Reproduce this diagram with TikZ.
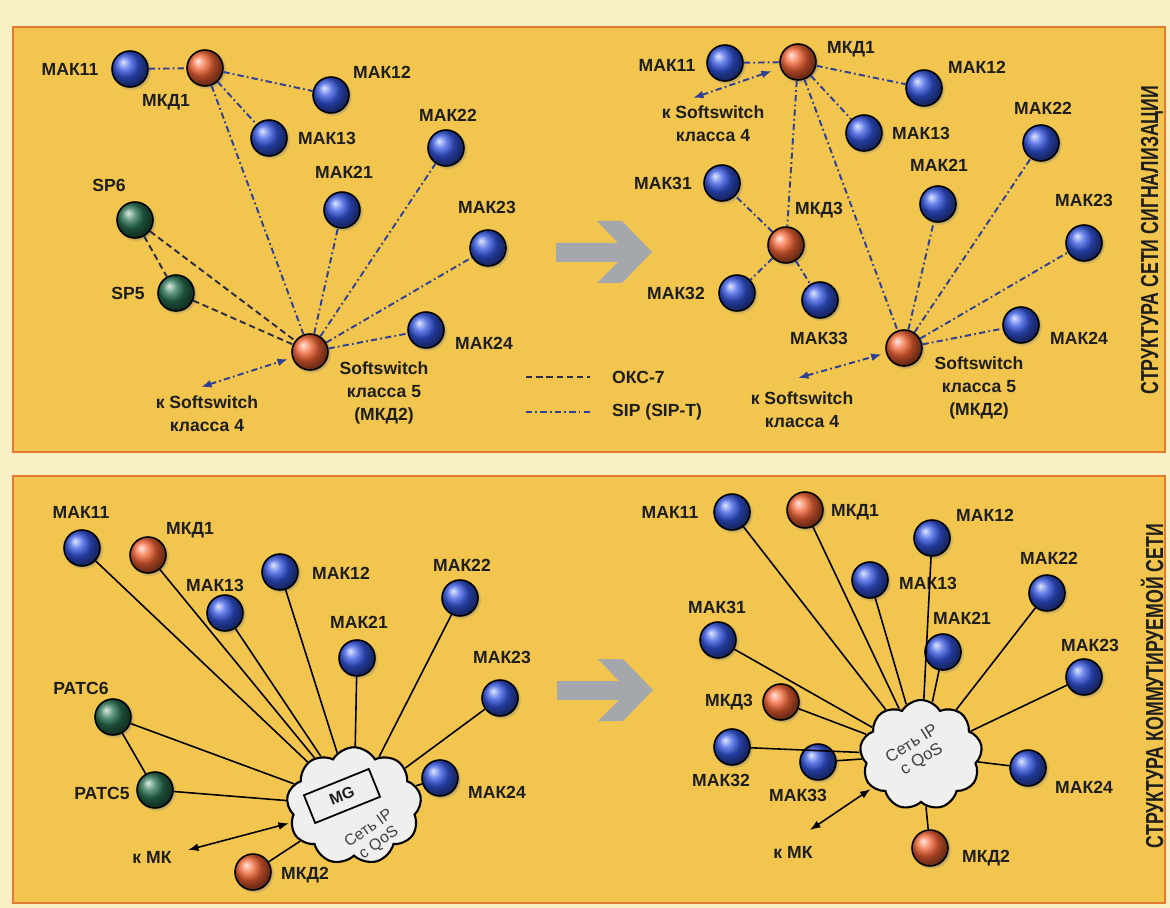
\documentclass[tikz,border=0pt]{standalone}
\usepackage{fontspec}
\setmainfont{Liberation Sans}
\usepackage{tikz}
\usetikzlibrary{arrows.meta,positioning,shapes.symbols,shadows}
\definecolor{pagepale}{HTML}{F8F0C2}
\definecolor{panelA}{HTML}{F3D26A}
\definecolor{panelB}{HTML}{F1C54E}
\definecolor{panelC}{HTML}{F6E4A6}
\definecolor{frameorange}{HTML}{E27A32}
\definecolor{ballblue}{HTML}{3355E0}
\definecolor{ballorange}{HTML}{F26232}
\definecolor{ballgreen}{HTML}{287050}
\definecolor{sipblue}{HTML}{2E3F98}
\definecolor{oksdark}{HTML}{2C2C46}
\definecolor{cloudgray}{HTML}{EFF0EE}
\definecolor{arrowgray}{HTML}{A4A8AC}
\definecolor{inkdark}{HTML}{1E1E1E}
\pgfdeclarehorizontalshading{panelshade}{100bp}{color(0bp)=(panelA); color(25bp)=(panelB); color(82bp)=(panelB); color(100bp)=(panelC)}

\begin{document}
\begin{tikzpicture}[x=0.02cm,y=-0.02cm,>=Latex,
    every node/.style={font=\fontsize{10}{12}\selectfont\bfseries,text=inkdark},
    ballnode/.style={circle,draw=black,line width=0.9pt,minimum size=0.72cm,inner sep=0pt,
      circular drop shadow={shadow xshift=0.6pt,shadow yshift=-0.6pt,shadow scale=1.12,opacity=0.45}},
    mak/.style={ballnode,ball color=ballblue},
    mkd/.style={ballnode,ball color=ballorange},
    pstn/.style={ballnode,ball color=ballgreen},
    oks/.style={draw=oksdark,line width=1.1pt,dash pattern=on 3.6pt off 2.2pt},
    sip/.style={draw=sipblue,line width=1.1pt,dash pattern=on 3.6pt off 1.8pt on 1pt off 1.8pt},
    sigarrow/.style={sip,{Latex[length=6pt,width=4.5pt]}-{Latex[length=6pt,width=4.5pt]},shorten >=2.5pt},
    tdm/.style={draw=black,line width=0.9pt},
    mkarrow/.style={tdm,{Latex[length=6pt,width=4.5pt]}-{Latex[length=6pt,width=4.5pt]},shorten >=1pt},
    ipnet/.style={cloud,cloud puffs=9,cloud puff arc=120,cloud ignores aspect,draw=black,line width=1.2pt,fill=cloudgray},
    nettext/.style={align=center,font=\fontsize{9}{10}\selectfont,text=black!75},
    twoline/.style={align=center,font=\fontsize{10}{13}\selectfont\bfseries},
    vtitle/.style={rotate=90,font=\fontsize{14}{16}\selectfont\bfseries},
    fatarrow/.pic={\fill[arrowgray] (0,0) -- (-30,-31) -- (-55,-31) -- (-34,-9) -- (-96,-9) -- (-96,10) -- (-34,10) -- (-55,31) -- (-30,31) -- cycle;}]

  % page and the two panels
  \fill[pagepale] (0,0) rectangle (1170,908);
  \useasboundingbox (0,0) rectangle (1170,908);
  \shade[shading=panelshade] (13,27) rectangle (1165,452);
  \shade[shading=panelshade] (13,476) rectangle (1165,903);
  \draw[frameorange,line width=1.2pt] (13,27) rectangle (1165,452);
  \draw[frameorange,line width=1.2pt] (13,476) rectangle (1165,903);
  \pic at (652,252) {fatarrow};
  \pic at (653,690) {fatarrow};
  \node[vtitle] (toptitle) at (1152,240) {\scalebox{0.72}[1]{СТРУКТУРА СЕТИ СИГНАЛИЗАЦИИ}};
  \node[vtitle] (bottitle) at (1152,686) {\scalebox{0.72}[1]{СТРУКТУРА КОММУТИРУЕМОЙ СЕТИ}};

  % signalling network, before
  \node[mak] (tl11) at (130,69) {};
  \node[mkd] (tlk1) at (205,68) {};
  \node[mak] (tl12) at (331,95) {};
  \node[mak] (tl13) at (269,138) {};
  \node[mak] (tl22) at (446,148) {};
  \node[mak] (tl21) at (342,210) {};
  \node[pstn] (tlsp6) at (135,220) {};
  \node[pstn] (tlsp5) at (176,293) {};
  \node[mak] (tl23) at (488,248) {};
  \node[mak] (tl24) at (426,330) {};
  \node[mkd] (tlss) at (310,352) {};
  \node (tl11t) at (70,69) {МАК11};
  \node (tlk1t) at (166,102) {МКД1};
  \node (tl12t) at (382,72) {МАК12};
  \node (tl13t) at (327,138) {МАК13};
  \node (tl22t) at (448,115) {МАК22};
  \node (tl21t) at (344,172) {МАК21};
  \node (tlsp6t) at (109,185) {SP6};
  \node (tlsp5t) at (128,293) {SP5};
  \node (tl23t) at (487,207) {МАК23};
  \node (tl24t) at (484,343) {МАК24};
  \node[twoline] (tlsst) at (384,393) {Softswitch\\класса 5\\(МКД2)};
  \node[twoline] (tlk4t) at (207,414) {к Softswitch\\класса 4};
  \draw[sip] (tl11) -- (tlk1);
  \draw[sip] (tlk1) -- (tl12);
  \draw[sip] (tlk1) -- (tl13);
  \draw[sip] (tlk1) -- (tlss);
  \draw[sip] (tlss) -- (tl21);
  \draw[sip] (tlss) -- (tl22);
  \draw[sip] (tlss) -- (tl23);
  \draw[sip] (tlss) -- (tl24);
  \draw[oks] (tlsp6) -- (tlsp5);
  \draw[oks] (tlsp6) -- (tlss);
  \draw[oks] (tlsp5) -- (tlss);
  \coordinate (tlk4) at (201,387);
  \draw[sigarrow] (tlk4) -- (tlss);

  % legend
  \coordinate (lgoa) at (526,377);
  \coordinate (lgob) at (590,377);
  \coordinate (lgsa) at (526,412);
  \coordinate (lgsb) at (590,412);
  \draw[oks] (lgoa) -- (lgob);
  \draw[sip] (lgsa) -- (lgsb);
  \node[anchor=west] (lgot) at (606,377) {ОКС-7};
  \node[anchor=west] (lgst) at (606,412) {SIP (SIP-T)};

  % signalling network, after
  \node[mak] (tr11) at (725,63) {};
  \node[mkd] (trk1) at (798,62) {};
  \node[mak] (tr12) at (924,88) {};
  \node[mak] (tr13) at (864,133) {};
  \node[mak] (tr22) at (1041,143) {};
  \node[mak] (tr31) at (722,183) {};
  \node[mak] (tr21) at (938,204) {};
  \node[mkd] (trk3) at (786,245) {};
  \node[mak] (tr23) at (1084,243) {};
  \node[mak] (tr32) at (737,293) {};
  \node[mak] (tr33) at (820,300) {};
  \node[mak] (tr24) at (1021,325) {};
  \node[mkd] (trss) at (904,348) {};
  \node (tr11t) at (667,65) {МАК11};
  \node (trk1t) at (851,49) {МКД1};
  \node (tr12t) at (977,67) {МАК12};
  \node (tr13t) at (921,133) {МАК13};
  \node (tr22t) at (1043,108) {МАК22};
  \node (tr31t) at (663,183) {МАК31};
  \node (tr21t) at (939,165) {МАК21};
  \node (trk3t) at (819,210) {МКД3};
  \node (tr23t) at (1084,200) {МАК23};
  \node (tr32t) at (676,293) {МАК32};
  \node (tr33t) at (819,338) {МАК33};
  \node (tr24t) at (1079,338) {МАК24};
  \node[twoline] (trsst) at (979,388) {Softswitch\\класса 5\\(МКД2)};
  \node[twoline] (trk4at) at (713,124) {к Softswitch\\класса 4};
  \node[twoline] (trk4bt) at (802,410) {к Softswitch\\класса 4};
  \draw[sip] (tr11) -- (trk1);
  \draw[sip] (trk1) -- (tr12);
  \draw[sip] (trk1) -- (tr13);
  \draw[sip] (trk1) -- (trss);
  \draw[sip] (trk1) -- (trk3);
  \draw[sip] (trk3) -- (tr31);
  \draw[sip] (trk3) -- (tr32);
  \draw[sip] (trk3) -- (tr33);
  \draw[sip] (trss) -- (tr21);
  \draw[sip] (trss) -- (tr22);
  \draw[sip] (trss) -- (tr23);
  \draw[sip] (trss) -- (tr24);
  \coordinate (trk4a) at (693,98);
  \coordinate (trk4b) at (798,378);
  \draw[sigarrow,shorten >=5pt] (trk4a) -- (trk1);
  \draw[sigarrow] (trk4b) -- (trss);

  % switched network, before
  \node[ipnet,minimum width=2.7cm,minimum height=2.35cm] (blnet) at (354,806) {};
  \node[draw,line width=1pt,fill=cloudgray,rotate=22,minimum width=1.4cm,minimum height=0.6cm,
    font=\fontsize{9}{10}\selectfont\bfseries] (blmg) at (342,796) {MG};
  \node[nettext,rotate=35] (blnett) at (374,836) {Сеть IP\\с QoS};
  \node[mak] (bl11) at (82,548) {};
  \node[mkd] (blk1) at (148,555) {};
  \node[mak] (bl13) at (225,613) {};
  \node[mak] (bl12) at (280,572) {};
  \node[mak] (bl22) at (460,598) {};
  \node[mak] (bl21) at (357,658) {};
  \node[mak] (bl23) at (500,698) {};
  \node[pstn] (blr6) at (113,717) {};
  \node[pstn] (blr5) at (155,790) {};
  \node[mak] (bl24) at (440,778) {};
  \node[mkd] (blk2) at (253,872) {};
  \node (bl11t) at (81,512) {МАК11};
  \node (blk1t) at (190,530) {МКД1};
  \node (bl13t) at (215,585) {МАК13};
  \node (bl12t) at (341,573) {МАК12};
  \node (bl22t) at (462,565) {МАК22};
  \node (bl21t) at (359,622) {МАК21};
  \node (bl23t) at (502,657) {МАК23};
  \node (blr6t) at (81,688) {РАТС6};
  \node (blr5t) at (102,793) {РАТС5};
  \node (bl24t) at (497,792) {МАК24};
  \node (blk2t) at (305,875) {МКД2};
  \node (blmkt) at (152,857) {к МК};
  \draw[tdm] (bl11) -- (blnet);
  \draw[tdm] (blk1) -- (blnet);
  \draw[tdm] (bl13) -- (blnet);
  \draw[tdm] (bl12) -- (blnet);
  \draw[tdm] (bl21) -- (blnet);
  \draw[tdm] (bl22) -- (blnet);
  \draw[tdm] (bl23) -- (blnet);
  \draw[tdm] (bl24) -- (blnet);
  \draw[tdm] (blr6) -- (blnet);
  \draw[tdm] (blr5) -- (blnet);
  \draw[tdm] (blr6) -- (blr5);
  \draw[tdm] (blk2) -- (blnet);
  \coordinate (blmk) at (188,850);
  \draw[mkarrow] (blmk) -- (blnet);

  % switched network, after
  \node[ipnet,minimum width=2.45cm,minimum height=2.2cm] (brnet) at (921,755) {};
  \node[nettext,rotate=32,font=\fontsize{9.5}{10.5}\selectfont] (brnett) at (917,752) {Сеть IP\\с QoS};
  \node[mak] (br11) at (732,512) {};
  \node[mkd] (brk1) at (805,510) {};
  \node[mak] (br12) at (932,538) {};
  \node[mak] (br13) at (870,580) {};
  \node[mak] (br22) at (1047,593) {};
  \node[mak] (br31) at (718,640) {};
  \node[mak] (br21) at (943,652) {};
  \node[mak] (br23) at (1084,677) {};
  \node[mkd] (brk3) at (781,702) {};
  \node[mak] (br32) at (732,747) {};
  \node[mak] (br33) at (818,762) {};
  \node[mak] (br24) at (1028,768) {};
  \node[mkd] (brk2) at (930,848) {};
  \node (br11t) at (670,512) {МАК11};
  \node (brk1t) at (855,512) {МКД1};
  \node (br12t) at (985,515) {МАК12};
  \node (br13t) at (928,583) {МАК13};
  \node (br22t) at (1049,558) {МАК22};
  \node (br31t) at (717,607) {МАК31};
  \node (br21t) at (962,618) {МАК21};
  \node (br23t) at (1090,645) {МАК23};
  \node (brk3t) at (729,702) {МКД3};
  \node (br32t) at (721,780) {МАК32};
  \node (br33t) at (798,795) {МАК33};
  \node (br24t) at (1084,787) {МАК24};
  \node (brk2t) at (986,858) {МКД2};
  \node (brmkt) at (793,852) {к МК};
  \draw[tdm] (br11) -- (brnet);
  \draw[tdm] (brk1) -- (brnet);
  \draw[tdm] (br12) -- (brnet);
  \draw[tdm] (br13) -- (brnet);
  \draw[tdm] (br22) -- (brnet);
  \draw[tdm] (br31) -- (brnet);
  \draw[tdm] (br21) -- (brnet);
  \draw[tdm] (br23) -- (brnet);
  \draw[tdm] (brk3) -- (brnet);
  \draw[tdm] (br32) -- (brnet);
  \draw[tdm] (br33) -- (brnet);
  \draw[tdm] (br24) -- (brnet);
  \draw[tdm] (brk2) -- (brnet);
  \coordinate (brmk) at (810,830);
  \draw[mkarrow] (brmk) -- (brnet);
\end{tikzpicture}
\end{document}
